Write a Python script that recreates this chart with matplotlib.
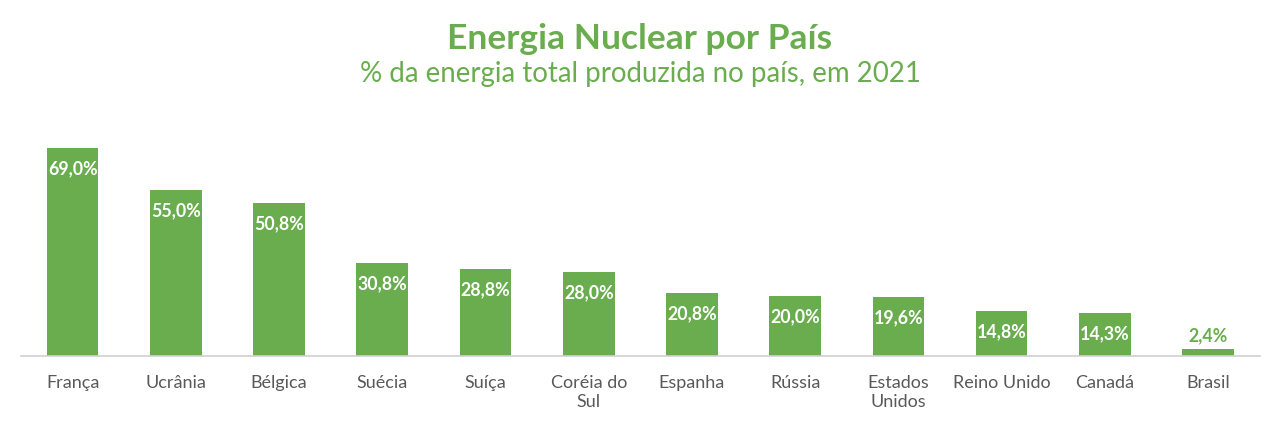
import matplotlib.pyplot as plt

plt.rcParams['font.family'] = ['Lato', 'DejaVu Sans']

paises = ['França', 'Ucrânia', 'Bélgica', 'Suécia', 'Suíça', 'Coréia do\nSul',
          'Espanha', 'Rússia', 'Estados\nUnidos', 'Reino Unido', 'Canadá', 'Brasil']
valores = [69.0, 55.0, 50.8, 30.8, 28.8, 28.0, 20.8, 20.0, 19.6, 14.8, 14.3, 2.4]

verde = '#6aad4e'
cinza = '#595959'

fig = plt.figure(figsize=(12.8, 4.24), dpi=100)
ax = fig.add_axes([0.0164, 0.1604, 0.9677, 0.4906])

x = list(range(len(paises)))
ax.bar(x, valores, width=0.5, color=verde)
ax.set_xlim(-0.5, len(paises) - 0.5)
ax.set_ylim(0, 69)

for i, v in enumerate(valores):
    txt = f'{v:.1f}%'.replace('.', ',')
    if v > 5:
        ax.annotate(txt, (i, v), xytext=(0, -15), textcoords='offset points',
                    ha='center', va='center', color='white', fontsize=12.8,
                    fontweight='bold')
    else:
        ax.annotate(txt, (i, v), xytext=(0, 3), textcoords='offset points',
                    ha='center', va='bottom', color=verde, fontsize=12.8,
                    fontweight='bold')

ax.set_xticks(x)
ax.set_xticklabels(paises, fontsize=13, color=cinza, va='top', linespacing=1.2)
ax.tick_params(axis='x', length=0, pad=14)
ax.set_yticks([])
for s in ['top', 'right', 'left']:
    ax.spines[s].set_visible(False)
ax.spines['bottom'].set_color('#d0d0d0')
ax.spines['bottom'].set_linewidth(1.2)

fig.text(0.5, 1 - 39 / 424, 'Energia Nuclear por País', ha='center', va='center',
         fontsize=25.5, fontweight='bold', color=verde)
fig.text(0.5, 1 - 74 / 424, '% da energia total produzida no país, em 2021',
         ha='center', va='center', fontsize=19.9, color=verde)

fig.savefig('out.png', dpi=100)
